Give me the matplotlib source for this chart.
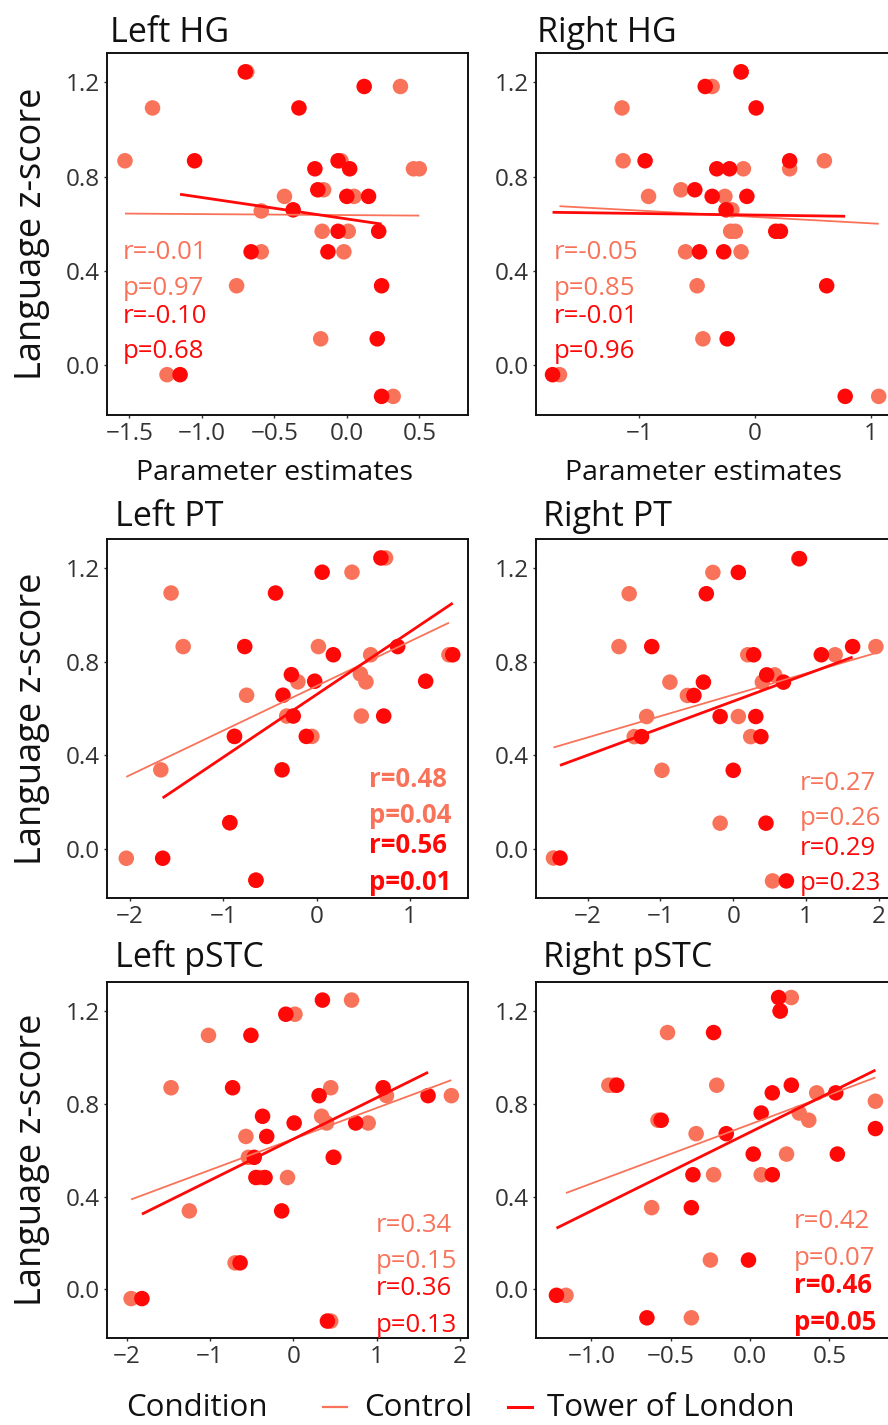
import numpy as np
import matplotlib
matplotlib.use("Agg")
import matplotlib.pyplot as plt
from matplotlib.lines import Line2D

plt.rcParams['font.family'] = ['Open Sans', 'DejaVu Sans']

# %%
# Data (x = parameter estimate, y = language z-score)
# ----------------------------------------------------------------------

lhg_tol_x = [-0.70, 0.12, -0.33, -1.05, -0.06, -0.22, 0.02, -0.20, 0.00, 0.15,
             -0.37, -0.06, 0.22, -0.66, -0.13, 0.24, 0.21, -1.15, 0.24]
lhg_tol_y = [1.245, 1.183, 1.092, 0.868, 0.868, 0.834, 0.834, 0.745, 0.717, 0.717,
             0.660, 0.569, 0.569, 0.482, 0.482, 0.338, 0.113, -0.039, -0.131]
lhg_ctrl_x = [-0.69, 0.37, -1.34, -1.53, -0.04, 0.46, 0.50, -0.16, -0.43, 0.05,
              -0.59, -0.17, 0.01, -0.59, -0.02, -0.76, -0.18, -1.24, 0.32]
lhg_ctrl_y = [1.245, 1.183, 1.092, 0.868, 0.868, 0.834, 0.834, 0.745, 0.717, 0.717,
              0.655, 0.569, 0.569, 0.482, 0.482, 0.338, 0.113, -0.039, -0.131]

rhg_tol_x = [-0.12, -0.43, 0.01, -0.95, 0.30, -0.33, -0.22, -0.52, -0.37, -0.07,
             -0.25, 0.18, 0.22, -0.48, -0.27, 0.62, -0.24, -1.75, 0.78]
rhg_tol_y = [1.245, 1.183, 1.092, 0.868, 0.868, 0.834, 0.834, 0.745, 0.717, 0.717,
             0.660, 0.569, 0.569, 0.482, 0.482, 0.338, 0.113, -0.039, -0.131]
rhg_ctrl_x = [-0.12, -0.37, -1.15, -1.14, 0.60, -0.10, 0.30, -0.64, -0.92, -0.26,
              -0.20, -0.21, -0.17, -0.60, -0.12, -0.50, -0.45, -1.69, 1.07]
rhg_ctrl_y = [1.245, 1.183, 1.092, 0.868, 0.868, 0.834, 0.834, 0.745, 0.717, 0.717,
              0.660, 0.569, 0.569, 0.482, 0.482, 0.338, 0.113, -0.039, -0.131]

lpt_tol_x = [0.69, 0.06, -0.44, -0.77, 0.87, 0.18, 1.46, -0.27, -0.02, 1.17,
             -0.36, -0.25, 0.72, -0.88, -0.11, -0.37, -0.93, -1.65, -0.65]
lpt_tol_y = [1.244, 1.183, 1.094, 0.865, 0.865, 0.830, 0.830, 0.745, 0.717, 0.717,
             0.657, 0.568, 0.568, 0.481, 0.481, 0.338, 0.112, -0.040, -0.134]
lpt_ctrl_x = [0.74, 0.38, -1.56, -1.43, 0.02, 0.58, 1.42, 0.47, -0.20, 0.53,
              -0.75, -0.32, 0.48, -0.05, -0.88, -1.67, -0.93, -2.04, -0.65]
lpt_ctrl_y = [1.244, 1.183, 1.094, 0.865, 0.865, 0.830, 0.830, 0.748, 0.714, 0.714,
              0.657, 0.568, 0.568, 0.481, 0.481, 0.338, 0.112, -0.040, -0.134]

rpt_tol_x = [0.91, 0.07, -0.37, -1.12, 1.64, 0.28, 1.21, 0.46, -0.41, 0.69,
             -0.54, -0.18, 0.31, -1.26, 0.38, 0.00, 0.45, -2.38, 0.73]
rpt_tol_y = [1.241, 1.182, 1.091, 0.865, 0.865, 0.830, 0.830, 0.744, 0.713, 0.713,
             0.656, 0.566, 0.566, 0.480, 0.480, 0.336, 0.110, -0.039, -0.137]
rpt_ctrl_x = [0.90, -0.28, -1.43, -1.57, 1.96, 0.20, 1.40, 0.57, -0.87, 0.40,
              -0.63, -1.19, 0.07, -1.36, 0.24, -0.98, -0.18, -2.47, 0.54]
rpt_ctrl_y = [1.241, 1.182, 1.091, 0.865, 0.865, 0.830, 0.830, 0.744, 0.713, 0.713,
              0.656, 0.566, 0.566, 0.480, 0.480, 0.336, 0.110, -0.039, -0.137]

lpstc_tol_x = [0.35, -0.09, -0.51, -0.73, 1.08, 0.31, 1.62, -0.37, 0.01, 0.75,
               -0.32, -0.47, 0.48, -0.45, -0.34, -0.14, -0.64, -1.82, 0.41]
lpstc_tol_y = [1.247, 1.186, 1.095, 0.869, 0.869, 0.835, 0.835, 0.746, 0.717, 0.717,
               0.659, 0.569, 0.569, 0.482, 0.482, 0.338, 0.114, -0.040, -0.137]
lpstc_ctrl_x = [0.70, 0.02, -1.02, -1.47, 0.45, 1.12, 1.90, 0.34, 0.40, 0.90,
                -0.57, -0.54, 0.49, -0.07, -0.40, -1.25, -0.70, -1.95, 0.45]
lpstc_ctrl_y = [1.247, 1.186, 1.095, 0.869, 0.869, 0.835, 0.835, 0.746, 0.717, 0.717,
                0.659, 0.569, 0.569, 0.482, 0.482, 0.338, 0.114, -0.040, -0.137]

rpstc_tol_x = [0.18, 0.19, -0.23, -0.84, 0.26, 0.14, 0.54, 0.07, -0.56, -0.15,
               0.79, 0.02, 0.55, -0.36, 0.14, -0.37, -0.01, -1.22, -0.65]
rpstc_tol_y = [1.258, 1.200, 1.107, 0.880, 0.880, 0.847, 0.847, 0.760, 0.729, 0.671,
               0.693, 0.583, 0.583, 0.494, 0.494, 0.352, 0.126, -0.026, -0.123]
rpstc_ctrl_x = [0.26, 0.19, -0.52, -0.89, -0.86, -0.21, 0.42, 0.79, 0.31, 0.37,
                -0.58, -0.34, 0.23, -0.23, 0.07, -0.62, -0.25, -1.16, -0.37]
rpstc_ctrl_y = [1.258, 1.200, 1.107, 0.880, 0.880, 0.880, 0.847, 0.811, 0.760, 0.729,
                0.729, 0.671, 0.583, 0.494, 0.494, 0.352, 0.126, -0.026, -0.123]

titles = ["Left HG", "Right HG", "Left PT", "Right PT", "Left pSTC", "Right pSTC"]
ctrl_r = ["-0.01", "-0.05", "0.48", "0.27", "0.34", "0.42"]
ctrl_p = ["0.97", "0.85", "0.04", "0.26", "0.15", "0.07"]
tol_r = ["-0.10", "-0.01", "0.56", "0.29", "0.36", "0.46"]
tol_p = ["0.68", "0.96", "0.01", "0.23", "0.13", "0.05"]

y_ticks = [0.0, 0.4, 0.8, 1.2]
x_ticks = [[-1.5, -1.0, -0.5, 0.0, 0.5], [-1, 0, 1], [-2, -1, 0, 1],
           [-2, -1, 0, 1, 2], [-2, -1, 0, 1, 2], [-1.0, -0.5, 0.0, 0.5]]
x_fmt = ["%.1f", "%d", "%d", "%d", "%d", "%.1f"]

CTRL = "#F9735A"
TOL = "#FF0808"

panels = [
    (lhg_ctrl_x, lhg_ctrl_y, lhg_tol_x, lhg_tol_y),
    (rhg_ctrl_x, rhg_ctrl_y, rhg_tol_x, rhg_tol_y),
    (lpt_ctrl_x, lpt_ctrl_y, lpt_tol_x, lpt_tol_y),
    (rpt_ctrl_x, rpt_ctrl_y, rpt_tol_x, rpt_tol_y),
    (lpstc_ctrl_x, lpstc_ctrl_y, lpstc_tol_x, lpstc_tol_y),
    (rpstc_ctrl_x, rpstc_ctrl_y, rpstc_tol_x, rpstc_tol_y),
]

# %%
# Layout (pixel boxes on a 888 x 1425 canvas)
# -------------------------------------------

W, H = 888, 1425
fig = plt.figure(figsize=(W / 100, H / 100), dpi=100)

def fx(px):
    return px / W

def fy(py):
    return 1 - py / H

rows = [(53, 415), (539, 898), (982, 1338)]
cols = [(107, 468), (536, 897)]
xlims = [(-1.654, 0.836), (-1.893, 1.228), (-2.247, 1.624),
         (-2.71, 2.25), (-2.24, 2.10), (-1.349, 0.926)]
title_pos = [(110, 42), (537, 42), (115, 526), (543, 526), (115, 967), (543, 967)]
# baselines (axes fraction) of the four stat lines, and their left x
stat_y = [(0.431, 0.331, 0.254, 0.157), (0.431, 0.331, 0.254, 0.157),
          (0.309, 0.209, 0.125, 0.022), (0.301, 0.203, 0.120, 0.022),
          (0.298, 0.197, 0.121, 0.017), (0.309, 0.205, 0.126, 0.022)]
stat_x = [0.044, 0.050, 0.725, 0.731, 0.745, 0.715]
bold_ctrl = [False, False, True, False, False, False]
bold_tol = [False, False, True, False, False, True]

for i, (cx, cy, tx, ty) in enumerate(panels):
    r, c = divmod(i, 2)
    x0, x1 = cols[c]
    y0, y1 = rows[r]
    ax = fig.add_axes([fx(x0), fy(y1), (x1 - x0) / W, (y1 - y0) / H])

    ax.scatter(cx, cy, s=125, color=CTRL, edgecolors="none", zorder=2)
    ax.scatter(tx, ty, s=125, color=TOL, edgecolors="none", zorder=3)

    for xs, ys, col, lw in [(cx, cy, CTRL, 1.3), (tx, ty, TOL, 2.0)]:
        xs = np.asarray(xs)
        ys = np.asarray(ys)
        k, b = np.polyfit(xs, ys, 1)
        xx = np.array([xs.min(), xs.max()])
        ax.plot(xx, k * xx + b, color=col, lw=lw, zorder=4, solid_capstyle="butt")

    ax.set_xlim(*xlims[i])
    ax.set_ylim(-0.21, 1.325)
    ax.set_yticks(y_ticks)
    ax.set_yticklabels(["%.1f" % v for v in y_ticks])
    ax.set_xticks(x_ticks[i])
    ax.set_xticklabels([(x_fmt[i] % v).replace("-", "\u2212") for v in x_ticks[i]])
    ax.tick_params(length=2.5, width=1.0, color="#333333", labelcolor="#333333",
                   labelsize=17.5, pad=2.5)
    for sp in ax.spines.values():
        sp.set_linewidth(1.4)
        sp.set_color("#111111")

    sy = stat_y[i]
    fw_c = "bold" if bold_ctrl[i] else "normal"
    fw_t = "bold" if bold_tol[i] else "normal"
    ax.text(stat_x[i], sy[0], "r=" + ctrl_r[i], transform=ax.transAxes, color=CTRL,
            fontsize=18.5, fontweight=fw_c, va="baseline", zorder=5)
    ax.text(stat_x[i], sy[1], "p=" + ctrl_p[i], transform=ax.transAxes, color=CTRL,
            fontsize=18.5, fontweight=fw_c, va="baseline", zorder=5)
    ax.text(stat_x[i], sy[2], "r=" + tol_r[i], transform=ax.transAxes, color=TOL,
            fontsize=18.5, fontweight=fw_t, va="baseline", zorder=5)
    ax.text(stat_x[i], sy[3], "p=" + tol_p[i], transform=ax.transAxes, color=TOL,
            fontsize=18.5, fontweight=fw_t, va="baseline", zorder=5)

    tx_, ty_ = title_pos[i]
    fig.text(fx(tx_), fy(ty_), titles[i], fontsize=24.5, va="baseline", ha="left",
             color="#111111")

    if c == 0:
        fig.text(fx(32), fy((y0 + y1) / 2), "Language z-score", rotation=90,
                 fontsize=26, ha="center", va="center", color="#111111")
    if r == 0:
        fig.text(fx((x0 + x1) / 2 - 13), fy(480), "Parameter estimates",
                 fontsize=20.5, ha="center", va="baseline", color="#111111")

# %%
# Legend along the bottom
# -----------------------

fig.text(fx(126), fy(1416), "Condition", fontsize=22.5, va="baseline", color="#111111")
fig.add_artist(Line2D([fx(323), fx(347)], [fy(1407), fy(1407)], color=CTRL, lw=1.6,
                      transform=fig.transFigure))
fig.text(fx(364), fy(1416), "Control", fontsize=22.5, va="baseline", color="#111111")
fig.add_artist(Line2D([fx(508), fx(532)], [fy(1407), fy(1407)], color=TOL, lw=2.2,
                      transform=fig.transFigure))
fig.text(fx(547), fy(1416), "Tower of London", fontsize=22.5, va="baseline",
         color="#111111")

fig.savefig("out.png", dpi=100)
